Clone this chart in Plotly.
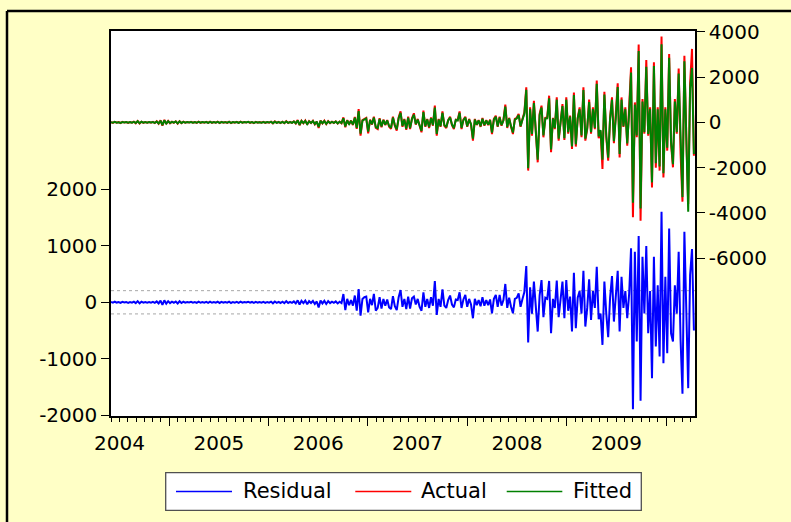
import plotly.graph_objects as go
import pandas as pd

start_date = "2004-06-01"
n_obs = 307
dates = pd.date_range(start_date, periods=n_obs, freq="7D")

residual = [
    5, -8, 10, -5, 3, -12, 8, -4, 6, -10,
    4, -6, 12, -15, 20, -18, 10, -8, 5, -6,
    6, -5, 8, -10, 15, -20, 30, -45, 35, -25,
    20, -15, 10, -8, 15, -20, 18, -12, 10, -6,
    5, -4, 8, -6, 4, -10, 12, -8, 6, -5,
    8, -10, 12, -8, 5, -6, 10, -12, 8, -5,
    4, -8, 10, -12, 6, -5, 8, -10, 12, -6,
    5, -4, 10, -8, 6, -12, 8, -5, 4, -6,
    8, -10, 6, -5, 12, -18, 15, -10, 8, -12,
    10, -15, 20, -12, 8, -10, 15, -20, 35, -40,
    25, -15, 30, -35, 20, -12, 25, -30, 15, -90,
    30, -20, 25, -30, 20, -15, 12, -10, 15, -20,
    10, -15, 147, -140, 60, -50, 40, -60, 120, -150,
    236, -236, 60, 90, 100, -180, 60, -50, 150, -150,
    -100, 90, -110, 60, -60, 50, -90, -120, 110, -70,
    -140, 90, 218, -80, 60, -120, 100, -110, 70, 100,
    -40, 60, -80, -150, 177, -80, 60, -100, 90, -60,
    378, -224, 60, -80, 230, -60, -100, 40, 120, -40,
    -90, 50, 40, 177, -100, 50, 130, -80, 60, -40,
    -283, 60, -50, 40, -70, 90, -60, 40, -50, 50,
    -195, 60, 130, -80, 130, -60, 40, 325, -100, 80,
    -80, -195, 60, 80, 160, -80, 60, 180, 643, -714,
    265, -200, 366, -120, -519, 120, 395, -265, 80, 60,
    378, -549, 60, -100, 384, -265, 80, 366, -283, 395,
    -150, 100, -519, 525, -460, 80, 200, -200, 560, -430,
    -100, 407, -313, 200, -100, 631, -300, -200, -755, 366,
    -200, -620, 80, 466, -342, 50, 560, -519, 454, -100,
    200, -283, 150, 956, -1894, 897, -696, 1174, -1746, 808,
    -200, 997, -549, 200, -1345, 808, -785, 300, -962, 1605,
    -1080, 454, -903, 1310, -549, -696, 300, -200, 897, -667,
    -1623, 1251, -430, -1522, 484, 944, -500,
]

actual = [
    10, -20, 25, -15, 8, -30, 20, -10, 15, -25,
    10, -15, 30, -40, 60, -50, 30, -20, 12, -15,
    15, -12, 20, -30, 45, -60, 90, -150, 110, -70,
    60, -40, 25, -20, 45, -60, 50, -35, 25, -15,
    12, -10, 20, -15, 10, -25, 30, -20, 15, -12,
    20, -25, 30, -20, 12, -15, 25, -30, 20, -12,
    10, -20, 25, -30, 15, -12, 20, -25, 30, -15,
    12, -10, 25, -20, 15, -30, 20, -12, 10, -15,
    20, -25, 15, -12, 30, -45, 40, -25, 20, -30,
    25, -40, 50, -30, 20, -25, 40, -55, 100, -130,
    70, -40, 80, -100, 50, -30, 70, -90, 40, -250,
    80, -50, 70, -80, 50, -40, 30, -25, 40, -55,
    30, -40, 220, -220, 100, -90, 80, -120, 240, -290,
    590, -590, 100, 150, 200, -485, 120, -100, 250, -250,
    -300, 180, -220, 120, -120, 100, -200, -290, 250, -150,
    -370, 220, 485, -200, 150, -330, 250, -300, 180, 400,
    -100, 150, -200, -440, 515, -200, 150, -250, 220, -150,
    735, -590, 150, -200, 485, -150, -250, 100, 250, -120,
    -300, 120, 100, 485, -300, 120, 250, -200, 150, -100,
    -810, 150, -120, 100, -200, 190, -150, 100, -120, 120,
    -515, 150, 295, -200, 250, -150, 100, 780, -250, 200,
    -200, -515, 150, 200, 370, -200, 150, 440, 1545, -2130,
    660, -590, 955, -400, -1765, 370, 735, -660, 200, 220,
    1175, -1320, 200, -300, 1100, -810, 200, 810, -780, 1100,
    -500, 300, -1175, 1320, -1070, 200, 660, -660, 1545, -810,
    -300, 1000, -500, 660, -300, 1840, -700, -400, -2060, 1350,
    -660, -1690, 200, 1100, -925, 200, 1720, -1545, 1100, -200,
    660, -1030, 500, 2430, -4190, 880, -660, 3430, -4340, 1030,
    -500, 2750, -590, 660, -2870, 2650, -2000, 660, -2130, 3790,
    -2430, 660, -1250, 3010, -955, -1985, 1030, -500, 2380, -1400,
    -3500, 2940, -660, -3600, 1690, 3240, -1470,
]

fitted = [
    8, -16, 20, -12, 6, -24, 16, -8, 12, -20,
    8, -12, 24, -32, 48, -40, 24, -16, 10, -12,
    12, -10, 16, -24, 36, -48, 72, -120, 88, -56,
    48, -32, 20, -16, 36, -48, 40, -28, 20, -12,
    10, -8, 16, -12, 8, -20, 24, -16, 12, -10,
    16, -20, 24, -16, 10, -12, 20, -24, 16, -10,
    8, -16, 20, -24, 12, -10, 16, -20, 24, -12,
    10, -8, 20, -16, 12, -24, 16, -10, 8, -12,
    16, -20, 12, -10, 24, -36, 32, -20, 16, -24,
    20, -32, 40, -24, 16, -20, 32, -44, 80, -105,
    56, -32, 64, -80, 40, -24, 56, -72, 32, -200,
    64, -40, 56, -64, 40, -32, 24, -20, 32, -44,
    24, -32, 180, -180, 80, -72, 64, -96, 200, -240,
    500, -500, 80, 120, 170, -410, 96, -80, 210, -210,
    -250, 150, -180, 96, -96, 80, -160, -240, 210, -120,
    -310, 180, 420, -160, 120, -280, 210, -250, 150, 340,
    -80, 120, -170, -380, 450, -170, 120, -210, 180, -120,
    650, -510, 120, -170, 420, -120, -210, 80, 210, -100,
    -250, 100, 80, 420, -250, 100, 210, -170, 120, -80,
    -720, 120, -100, 80, -170, 160, -120, 80, -100, 100,
    -450, 120, 250, -170, 210, -120, 80, 690, -210, 170,
    -170, -450, 120, 170, 320, -170, 120, 380, 1440, -2020,
    580, -510, 850, -340, -1650, 320, 650, -580, 170, 180,
    1060, -1200, 170, -250, 1000, -720, 170, 720, -700, 1000,
    -430, 250, -1060, 1200, -970, 170, 580, -580, 1420, -720,
    -250, 900, -430, 580, -250, 1700, -620, -340, -1650, 1230,
    -580, -1560, 170, 1000, -830, 170, 1560, -1400, 1000, -170,
    580, -930, 430, 2200, -3550, 780, -580, 3150, -3800, 920,
    -430, 2450, -510, 580, -2650, 2480, -1800, 580, -1950, 3450,
    -2250, 580, -1120, 2850, -850, -1850, 920, -430, 2150, -1250,
    -3300, 2700, -580, -3950, 1500, 2400, -1400,
]

series_names = ["Residual", "Actual", "Fitted"]
series_colors = ["#0000FF", "#FF0000", "#008000"]

resid_std = 206
left_tickvals = [-2000, -1000, 0, 1000, 2000]
left_ticktext = ["-2000", "-1000", "0", "1000", "2000"]
right_tickvals = [-6000, -4000, -2000, 0, 2000, 4000]
right_ticktext = ["-6000", "-4000", "-2000", "0", "2000", "4000"]

# ---------------- figure ----------------
BG = "#FFFFC6"
LW = 2.0
fig = go.Figure()
fig.add_trace(go.Scatter(x=dates, y=residual, name=series_names[0], mode="lines",
                         line=dict(color=series_colors[0], width=LW), yaxis="y"))
fig.add_trace(go.Scatter(x=dates, y=actual, name=series_names[1], mode="lines",
                         line=dict(color=series_colors[1], width=LW), yaxis="y2"))
fig.add_trace(go.Scatter(x=dates, y=fitted, name=series_names[2], mode="lines",
                         line=dict(color=series_colors[2], width=LW), yaxis="y2"))

shapes = [
    # +/- 1 std band of residuals (dotted)
    dict(type="line", xref="paper", yref="y", x0=0, x1=1, y0=resid_std, y1=resid_std,
         line=dict(color="#A8A8A8", width=1, dash="dot"), layer="below"),
    dict(type="line", xref="paper", yref="y", x0=0, x1=1, y0=-resid_std, y1=-resid_std,
         line=dict(color="#A8A8A8", width=1, dash="dot"), layer="below"),
    # outer frame (left and top edges visible)
    dict(type="line", xref="paper", yref="paper", x0=-0.17808, x1=-0.17808, y0=1.05195, y1=-0.30,
         line=dict(color="black", width=2.5)),
    dict(type="line", xref="paper", yref="paper", x0=-0.17808, x1=1.2, y0=1.05195, y1=1.05195,
         line=dict(color="black", width=2.5)),
    # legend box
    dict(type="rect", xref="paper", yref="paper", x0=0.09366, x1=0.90805, y0=-0.24494, y1=-0.14727,
         fillcolor="white", line=dict(color="#505050", width=1.3)),
]

# legend keys (line samples + labels)
legend_y = -0.1961
key_x = [(0.1113, 0.2072, 0.2248), (0.4183, 0.5142, 0.5291), (0.6776, 0.7728, 0.7889)]
annotations = []
for (x0, x1, xt), name, col in zip(key_x, series_names, series_colors):
    shapes.append(dict(type="line", xref="paper", yref="paper", x0=x0, x1=x1,
                       y0=legend_y, y1=legend_y, line=dict(color=col, width=1.5)))
    annotations.append(dict(xref="paper", yref="paper", x=xt, y=legend_y, text=name,
                            showarrow=False, xanchor="left", yanchor="middle",
                            font=dict(family="DejaVu Sans", size=21, color="black"),
                            borderpad=0))

fig.update_layout(
    width=791, height=522,
    margin=dict(l=111, r=96, t=31, b=106, autoexpand=False),
    paper_bgcolor=BG, plot_bgcolor="white",
    font=dict(family="DejaVu Sans", size=20, color="black"),
    showlegend=False,
    xaxis=dict(type="date", range=["2004-06-01", "2010-04-17"],
               showline=True, mirror=True, linecolor="black", linewidth=1.5,
               ticks="outside", ticklen=8, tickwidth=1, tickcolor="black",
               dtick="M12", tick0="2004-01-01", tickformat="%Y", ticklabelmode="period",
               showgrid=False, zeroline=False,
               minor=dict(dtick="M1", ticks="outside", ticklen=4, tickwidth=1,
                          tickcolor="black", showgrid=False)),
    yaxis=dict(range=[-2016, 4810], tickvals=left_tickvals, ticktext=left_ticktext,
               ticks="outside", ticklen=8, tickcolor="black",
               showline=True, linecolor="black", linewidth=1.5,
               showgrid=False, zeroline=False),
    yaxis2=dict(range=[-12960, 4031], tickvals=right_tickvals, ticktext=right_ticktext,
                overlaying="y", side="right",
                ticks="outside", ticklen=8, tickcolor="black",
                showline=True, linecolor="black", linewidth=1.5,
                showgrid=False, zeroline=False),
    shapes=shapes,
    annotations=annotations,
)

fig.write_html("out.html",
               config={"displayModeBar": False},
               post_script="document.body.style.margin='0px';document.body.style.overflow='hidden';")
